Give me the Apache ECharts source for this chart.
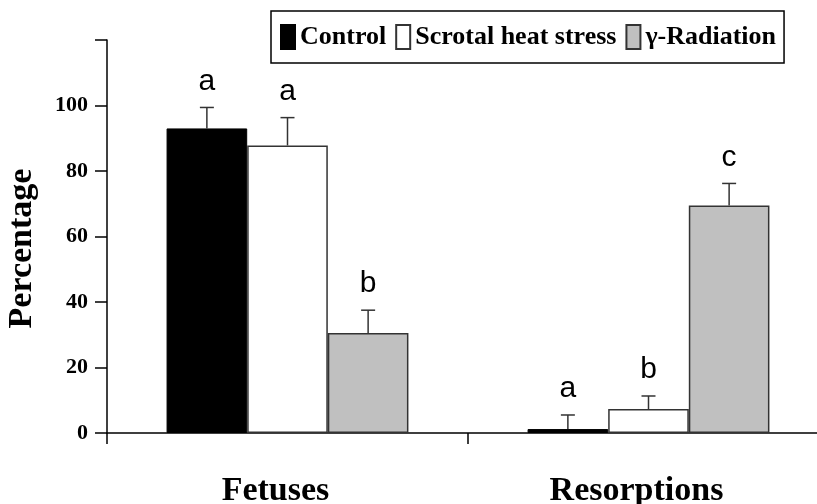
<!DOCTYPE html>
<html>
<head>
<meta charset="utf-8">
<script src="https://cdn.jsdelivr.net/npm/echarts@6/dist/echarts.min.js"></script>
<style>
  html, body { margin: 0; padding: 0; background: #fff; }
  #main { width: 817px; height: 504px; }
</style>
</head>
<body>
<div id="main"></div>
<script>
// data
const categories = ['Fetuses', 'Resorptions'];
const seriesNames = ['Control', 'Scrotal heat stress', '\u03b3-Radiation'];
const control = [93, 1.2];
const heat = [87.8, 7.3];
const radiation = [30.5, 69.5];
// top of the error bar (mean + SE)
const controlTop = [99.4, 5.5];
const heatTop = [96.3, 11.3];
const radiationTop = [37.5, 76.2];
// significance letters
const controlLetters = ['a', 'a'];
const heatLetters = ['a', 'b'];
const radiationLetters = ['b', 'c'];
const yTicks = [0, 20, 40, 60, 80, 100, 120];

const serif = 'Liberation Serif, Times New Roman, serif';
const catGap = 0.33;

let chart = echarts.init(document.getElementById('main'));

// error bars + letters, one point per bar
let errData = [];
const tops = [controlTop, heatTop, radiationTop];
const means = [control, heat, radiation];
const letters = [controlLetters, heatLetters, radiationLetters];
for (let g = 0; g < 3; g++) {
  for (let c = 0; c < categories.length; c++) {
    errData.push([c, means[g][c], tops[g][c], g, letters[g][c]]);
  }
}

function renderErr(params, api) {
  let cat = api.value(0);
  let g = api.value(3);
  let catW = api.size([1, 0])[0];
  let barW = catW * (1 - catGap) / 3;
  let center = api.coord([cat, 0])[0] + (g - 1) * barW;
  let yLow = api.coord([cat, api.value(1)])[1];
  let yHigh = api.coord([cat, api.value(2)])[1];
  let style = { stroke: '#333', lineWidth: 1.5 };
  return {
    type: 'group',
    children: [
      { type: 'line', shape: { x1: center, y1: yLow, x2: center, y2: yHigh }, style: style },
      { type: 'line', shape: { x1: center - 7, y1: yHigh, x2: center + 7, y2: yHigh }, style: style },
      {
        type: 'text',
        style: {
          x: center, y: yHigh - 11, text: errData[params.dataIndex][4],
          textAlign: 'center', textVerticalAlign: 'bottom',
          font: '30px Liberation Sans, Arial, sans-serif', fill: '#000'
        }
      }
    ]
  };
}

let option = {
  animation: false,
  backgroundColor: '#fff',
  grid: { left: 107, top: 40, width: 722, height: 393, outerBoundsMode: 'none' },
  legend: {
    left: 271, top: 11,
    padding: [13, 8, 13, 9],
    borderColor: '#000', borderWidth: 1.5,
    icon: 'rect',
    itemWidth: 14, itemHeight: 24, itemGap: 9,
    textStyle: { fontFamily: serif, fontWeight: 'bold', fontSize: 26, color: '#000' },
    data: seriesNames
  },
  xAxis: {
    type: 'category',
    data: categories,
    axisLine: { lineStyle: { color: '#000', width: 1.5 } },
    axisTick: { show: true, length: 11, inside: false, lineStyle: { color: '#000', width: 1.5 } },
    axisLabel: { margin: 41, fontFamily: serif, fontWeight: 'bold', fontSize: 34, color: '#000', padding: [0, 24, 0, 0] }
  },
  yAxis: {
    type: 'value',
    min: 0, max: 120, interval: 20,
    name: 'Percentage',
    nameLocation: 'middle',
    nameGap: 68,
    nameTextStyle: { fontFamily: serif, fontWeight: 'bold', fontSize: 34, color: '#000', padding: [0, 24, 0, 0] },
    splitLine: { show: false },
    axisLine: { show: true, lineStyle: { color: '#000', width: 1.5 } },
    axisTick: { show: true, length: 12, lineStyle: { color: '#000', width: 1.5 } },
    axisLabel: {
      margin: 19, fontFamily: serif, fontWeight: 'bold', fontSize: 22, color: '#000',
      formatter: v => (yTicks.indexOf(v) >= 0 && v < 120 ? String(v) : '')
    }
  },
  series: [
    { name: seriesNames[0], type: 'bar', data: control, barGap: '0%', barCategoryGap: (catGap * 100) + '%',
      itemStyle: { color: '#000', borderColor: '#000', borderWidth: 1 } },
    { name: seriesNames[1], type: 'bar', data: heat, barGap: '0%', barCategoryGap: (catGap * 100) + '%',
      itemStyle: { color: '#fff', borderColor: '#333', borderWidth: 1.5 } },
    { name: seriesNames[2], type: 'bar', data: radiation, barGap: '0%', barCategoryGap: (catGap * 100) + '%',
      itemStyle: { color: '#c0c0c0', borderColor: '#333', borderWidth: 1.5 } },
    { type: 'custom', renderItem: renderErr, data: errData, encode: { x: 0, y: 2 }, z: 5 }
  ]
};

chart.setOption(option);
</script>
</body>
</html>
